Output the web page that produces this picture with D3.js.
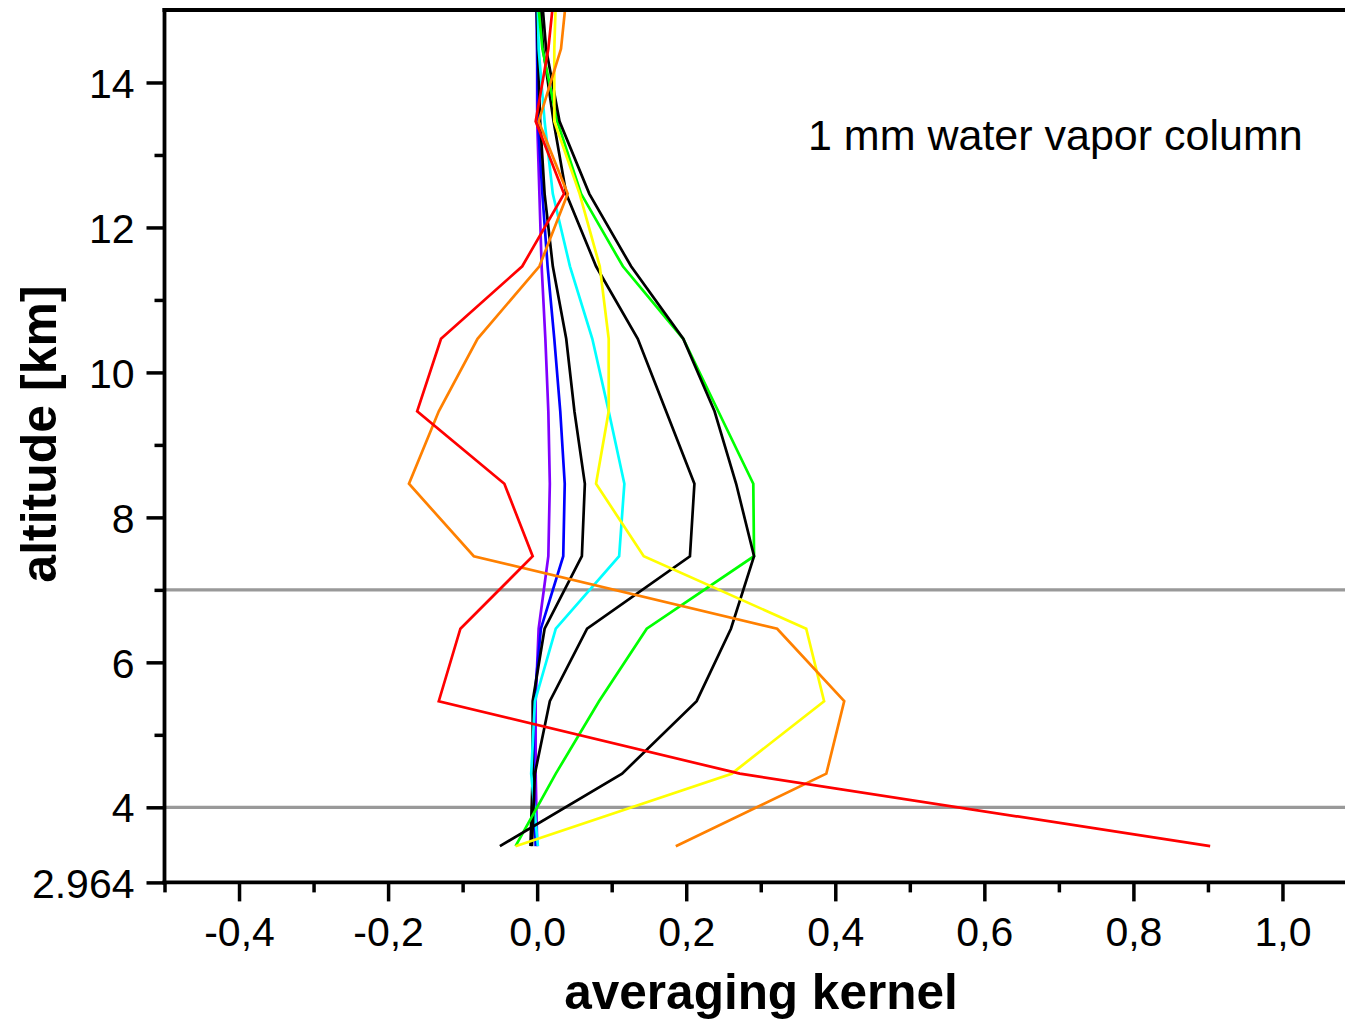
<!DOCTYPE html>
<html>
<head>
<meta charset="utf-8">
<script src="https://cdn.jsdelivr.net/npm/d3@7/dist/d3.min.js"></script>
<style>
  html, body { margin: 0; padding: 0; background: #ffffff; }
  svg { display: block; }
  text { font-family: "Liberation Sans", Arial, sans-serif; fill: #000; }
</style>
</head>
<body>
<svg id="chart" width="1345" height="1022"></svg>
<script>
// ---------------- data ----------------
const altitudes = [3.464, 4.464, 5.464, 6.464, 7.464, 8.464, 9.464, 10.464, 11.464, 12.464, 13.464, 14.464, 15.464];

const seriesNames  = ["violet", "blue", "black1", "cyan", "black2", "green", "black3", "yellow", "orange", "red"];
const seriesColors = ["#8000ff", "#0000ff", "#000000", "#00ffff", "#000000", "#00ff00", "#000000", "#ffff00", "#ff8000", "#ff0000"];

const kViolet = [0.000, -0.002, -0.002, 0.002, 0.015, 0.017, 0.015, 0.011, 0.006, 0.003, 0.000, 0.000, -0.001];
const kBlue   = [-0.002, -0.005, -0.004, 0.005, 0.035, 0.037, 0.031, 0.023, 0.014, 0.007, 0.001, 0.000, -0.001];
const kBlack1 = [-0.009, -0.006, -0.006, 0.010, 0.060, 0.064, 0.050, 0.039, 0.021, 0.010, 0.004, 0.001, -0.002];
const kCyan   = [0.001, -0.008, -0.003, 0.025, 0.110, 0.117, 0.096, 0.074, 0.044, 0.021, 0.010, 0.002, 0.000];
const kBlack2 = [-0.007, -0.003, 0.017, 0.067, 0.205, 0.211, 0.173, 0.135, 0.079, 0.039, 0.022, 0.008, 0.002];
const kGreen  = [-0.029, 0.025, 0.083, 0.147, 0.291, 0.290, 0.243, 0.196, 0.115, 0.059, 0.027, 0.007, -0.002];
const kBlack3 = [-0.050, 0.114, 0.214, 0.260, 0.291, 0.267, 0.238, 0.196, 0.126, 0.070, 0.030, 0.012, 0.004];
const kYellow = [-0.029, 0.261, 0.385, 0.361, 0.143, 0.079, 0.096, 0.096, 0.084, 0.057, 0.023, 0.023, 0.026];
const kOrange = [0.186, 0.388, 0.412, 0.322, -0.085, -0.172, -0.132, -0.080, 0.003, 0.041, 0.002, 0.032, 0.042];
const kRed    = [0.903, 0.272, -0.132, -0.103, -0.006, -0.044, -0.161, -0.129, -0.020, 0.036, -0.002, 0.015, 0.025];

const seriesValues = [kViolet, kBlue, kBlack1, kCyan, kBlack2, kGreen, kBlack3, kYellow, kOrange, kRed];

const xMajorTicks = [-0.4, -0.2, 0.0, 0.2, 0.4, 0.6, 0.8, 1.0];
const xMinorTicks = [-0.5, -0.3, -0.1, 0.1, 0.3, 0.5, 0.7, 0.9];
const yMajorTicks = [2.964, 4, 6, 8, 10, 12, 14];
const yMinorTicks = [5, 7, 9, 11, 13];
const refAltitudes = [4, 7];

const xTitle = "averaging kernel";
const yTitle = "altitude [km]";
const annotation = "1 mm water vapor column";

// ---------------- layout ----------------
(function () {
const svg = d3.select("#chart");
const pLeft = 164.5, pRight = 1357, pTop = 10, pBottom = 882.4;

const x = d3.scaleLinear().domain([-0.5, 1.1]).range([pLeft, pRight]);
const y = d3.scaleLinear().domain([2.964, 15]).range([pBottom, pTop]);

svg.append("defs").append("clipPath").attr("id", "plotclip")
  .append("rect").attr("x", pLeft).attr("y", pTop).attr("width", pRight - pLeft).attr("height", pBottom - pTop);

// reference lines
svg.append("g").selectAll("line").data(refAltitudes).join("line")
  .attr("x1", pLeft).attr("x2", pRight)
  .attr("y1", d => y(d)).attr("y2", d => y(d))
  .attr("stroke", "#999999").attr("stroke-width", 3.2);

// curves
const line = d3.line().x(d => x(d[0])).y(d => y(d[1]));
const gLines = svg.append("g").attr("clip-path", "url(#plotclip)");
seriesValues.forEach((vals, i) => {
  const pts = vals.map((v, j) => [v, altitudes[j]]);
  gLines.append("path")
    .attr("d", line(pts))
    .attr("fill", "none")
    .attr("stroke", seriesColors[i])
    .attr("stroke-width", 2.7)
    .attr("stroke-linejoin", "miter")
    .attr("class", seriesNames[i]);
});

// axes
const fmtX = d => (d < -1e-9 ? "-" : "") + Math.abs(d).toFixed(1).replace(".", ",");
const fmtY = d => (Math.abs(d - 2.964) < 1e-6 ? "2.964" : String(d));

function styleAxis(g) {
  g.select(".domain").remove();
  g.selectAll(".tick line").attr("stroke", "#000").attr("stroke-width", 3.5);
  g.selectAll(".tick text").style("font-size", "41px").style("font-family", "'Liberation Sans', Arial, sans-serif").attr("fill", "#000");
}

const gx = svg.append("g").attr("transform", `translate(0,${pBottom})`)
  .call(d3.axisBottom(x).tickValues(xMajorTicks).tickFormat(fmtX).tickSize(19).tickPadding(14));
styleAxis(gx);
gx.selectAll(".tick text").attr("dy", null).attr("y", 64);
const gxm = svg.append("g").attr("transform", `translate(0,${pBottom})`)
  .call(d3.axisBottom(x).tickValues(xMinorTicks).tickFormat("").tickSize(10));
styleAxis(gxm);

const gy = svg.append("g").attr("transform", `translate(${pLeft},0)`)
  .call(d3.axisLeft(y).tickValues(yMajorTicks).tickFormat(fmtY).tickSize(18).tickPadding(12));
styleAxis(gy);
gy.selectAll(".tick text").attr("dy", null).attr("y", 0.358 * 41).attr("x", -30);
const gym = svg.append("g").attr("transform", `translate(${pLeft},0)`)
  .call(d3.axisLeft(y).tickValues(yMinorTicks).tickFormat("").tickSize(10));
styleAxis(gym);

// frame lines
svg.append("line").attr("x1", pLeft).attr("x2", pLeft).attr("y1", pTop - 2).attr("y2", pBottom + 2)
  .attr("stroke", "#000").attr("stroke-width", 3.8);
svg.append("line").attr("x1", pLeft - 2).attr("x2", pRight).attr("y1", pBottom).attr("y2", pBottom)
  .attr("stroke", "#000").attr("stroke-width", 3.8);
svg.append("line").attr("x1", pLeft - 2).attr("x2", pRight).attr("y1", pTop).attr("y2", pTop)
  .attr("stroke", "#000").attr("stroke-width", 3.8);

// titles
svg.append("text").attr("x", 761).attr("y", 1009).attr("text-anchor", "middle")
  .style("font-size", "49.5px").style("font-weight", "bold").text(xTitle);
svg.append("text").attr("transform", "translate(56,434) rotate(-90)").attr("text-anchor", "middle")
  .style("font-size", "50px").style("font-weight", "bold").text(yTitle);

svg.append("text").attr("x", 808).attr("y", 150)
  .style("font-size", "43px").text(annotation);
})();
</script>
</body>
</html>
